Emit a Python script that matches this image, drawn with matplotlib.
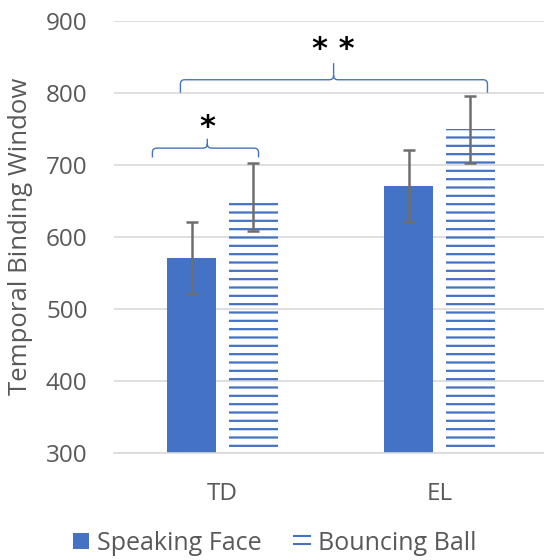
import matplotlib
matplotlib.use("Agg")
import matplotlib.pyplot as plt
from matplotlib.path import Path
from matplotlib.patches import PathPatch, Patch
from matplotlib.lines import Line2D
from matplotlib.legend_handler import HandlerBase

plt.rcParams['font.family'] = ['Open Sans', 'DejaVu Sans']
plt.rcParams['hatch.linewidth'] = 1.6

# Data
groups = ["TD", "EL"]
series = ["Speaking Face", "Bouncing Ball"]
speaking_face = [570, 670]
speaking_face_err = [50, 50]
bouncing_ball = [655, 749]
bouncing_ball_err = [47, 46]
y_ticks = [300, 400, 500, 600, 700, 800, 900]
sig_labels = ["*", "* *"]

BLUE = "#4472C4"
GRID = "#D9D9D9"
TEXT = "#595959"
ERR = "#6E6E6E"

fig = plt.figure(figsize=(5.44, 5.60), dpi=100)
ax = fig.add_axes([114 / 544, (560 - 452.7) / 560, 434 / 544, 432 / 560])

x = list(range(len(groups)))
offset = 0.142
width = 0.226

ax.bar([i - offset for i in x], speaking_face, width=width, color=BLUE,
       linewidth=0, zorder=2)
ax.bar([i + offset for i in x], bouncing_ball, width=width, facecolor="none",
       edgecolor=BLUE, hatch="--", linewidth=0, zorder=2)

err_kw = dict(fmt="none", ecolor=ERR, elinewidth=1.8, capsize=4.5,
              capthick=1.8, zorder=3)
ax.errorbar([i - offset for i in x], speaking_face, yerr=speaking_face_err, **err_kw)
ax.errorbar([i + offset for i in x], bouncing_ball, yerr=bouncing_ball_err, **err_kw)

ax.set_xlim(-0.5, 1.5)
ax.set_ylim(300, 900)
ax.set_yticks(y_ticks)
ax.set_xticks(x)
ax.set_xticklabels(groups)
ax.yaxis.grid(True, color=GRID, linewidth=1.2, zorder=0)
ax.set_axisbelow(True)
for side in ["left", "right", "top"]:
    ax.spines[side].set_visible(False)
ax.spines["bottom"].set_color(GRID)
ax.spines["bottom"].set_linewidth(1.2)
ax.tick_params(axis="both", length=0, labelsize=17.5, labelcolor=TEXT)
ax.tick_params(axis="y", pad=19)
ax.tick_params(axis="x", pad=21)
ax.set_ylabel("Temporal Binding Window", fontsize=18.5, color=TEXT, labelpad=9)


def brace(x0, x1, y, drop, tip, xc, rx, ry):
    """Curly brace opening downward with a small upward tip at xc."""
    verts = [
        (x0, y - drop), (x0, y - ry), (x0, y), (x0 + rx, y),
        (xc - rx, y), (xc, y), (xc, y + ry), (xc, tip),
        (xc, y + ry), (xc, y), (xc + rx, y),
        (x1 - rx, y), (x1, y), (x1, y - ry), (x1, y - drop),
    ]
    codes = [
        Path.MOVETO, Path.LINETO, Path.CURVE3, Path.CURVE3,
        Path.LINETO, Path.CURVE3, Path.CURVE3, Path.LINETO,
        Path.MOVETO, Path.CURVE3, Path.CURVE3,
        Path.LINETO, Path.CURVE3, Path.CURVE3, Path.LINETO,
    ]
    ax.add_patch(PathPatch(Path(verts, codes), facecolor="none",
                           edgecolor=BLUE, linewidth=1.0, clip_on=False,
                           zorder=4))


# TD comparison
brace(-0.323, 0.166, 723, 13, 736, -0.07, 0.02, 6)
ax.text(-0.07, 731, sig_labels[0], ha="center", va="bottom", fontsize=22,
        fontweight="bold", color="black", family="DejaVu Sans")
# Group comparison
brace(-0.194, 1.221, 818, 18, 841, 0.512, 0.02, 6)
ax.text(0.512, 840, sig_labels[1], ha="center", va="bottom", fontsize=22,
        fontweight="bold", color="black", family="DejaVu Sans")


class StripeKey:
    """Placeholder handle for the striped series in the legend."""


class HandlerStripes(HandlerBase):
    """Legend key drawn as two thin horizontal stripes."""

    def create_artists(self, legend, orig_handle, xdescent, ydescent,
                       width, height, fontsize, trans):
        artists = []
        for frac in (0.3, 0.78):
            yy = height * frac - ydescent
            artists.append(Line2D([-xdescent, -xdescent + width], [yy, yy],
                                  color=BLUE, linewidth=1.5, transform=trans))
        return artists


face_handle = Patch(facecolor=BLUE, linewidth=0)
fig.legend([face_handle, StripeKey()], series, loc="center",
           bbox_to_anchor=(0.505, 0.03), ncol=2, frameon=False, fontsize=18,
           labelcolor=TEXT, handlelength=0.65, handleheight=0.65,
           handletextpad=0.3, columnspacing=1.3,
           handler_map={StripeKey: HandlerStripes()})

fig.savefig("out.png", dpi=100)
